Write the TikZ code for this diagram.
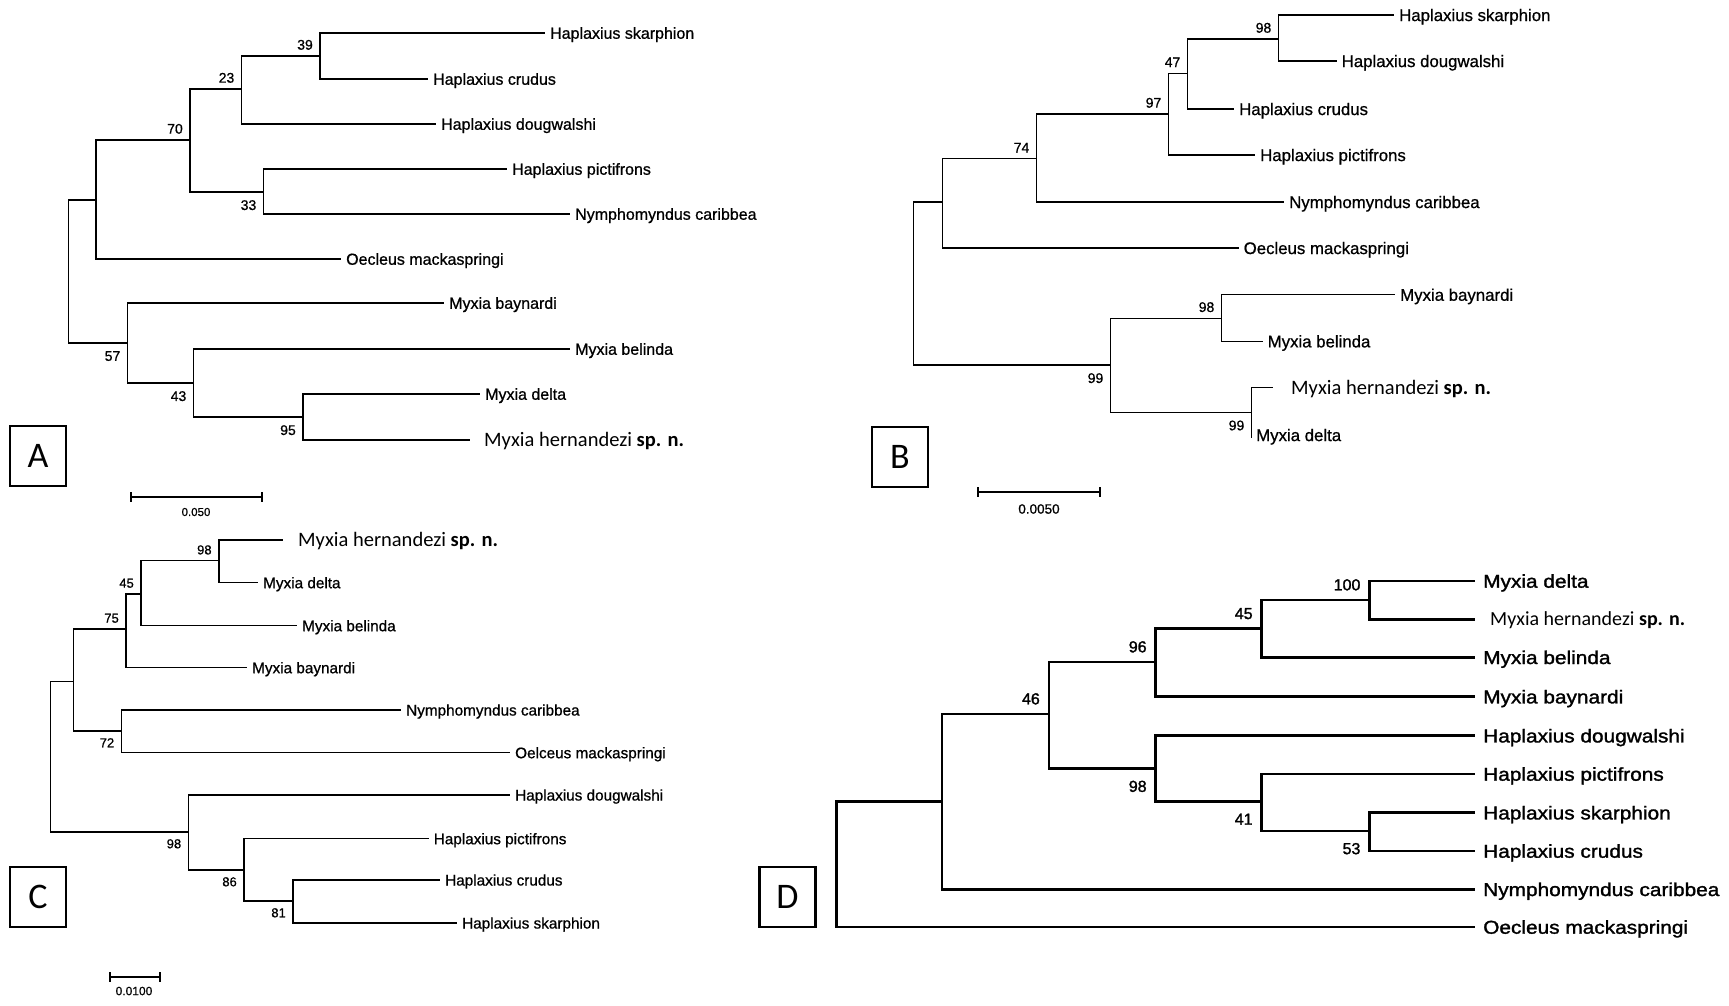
\documentclass[tikz,border=0pt]{standalone}
\usepackage{fontspec}
\newfontfamily\treefont[FakeBold=0.8]{Liberation Sans}
\newfontfamily\treefontheavy[FakeBold=1.5]{Liberation Sans}
\newfontfamily\treefontwide[FakeStretch=1.12,FakeBold=1.5]{Liberation Sans}
\newfontfamily\calfont{Carlito}
\tikzset{
  branch/.style={line width=1.4pt},
  heavybranch/.style={line width=2.7pt},
  taxa/.style={anchor=west, inner xsep=5pt, inner ysep=0pt, text height=11.5pt, text depth=0pt, font=\treefont\fontsize{16}{18}\selectfont},
  taxb/.style={taxa, text height=12.1pt, font=\treefont\fontsize{16.8}{18}\selectfont},
  taxc/.style={taxa, text height=11pt, font=\treefont\fontsize{15.3}{17}\selectfont},
  taxd/.style={taxa, inner xsep=8pt, text height=13.4pt, font=\treefontwide\fontsize{18.6}{20}\selectfont},
  newsp/.style={anchor=west, inner ysep=0pt, text height=13.2pt, text depth=0pt, font=\calfont\fontsize{20.5}{22}\selectfont},
  newspd/.style={newsp, inner xsep=15pt, text height=12.9pt, font=\calfont\fontsize{20}{22}\selectfont},
  bsfont/.style={inner sep=0pt, font=\treefont\fontsize{14}{16}\selectfont},
  bsup/.style={bsfont, anchor=south east, xshift=-7pt, yshift=6pt},
  bsdn/.style={bsfont, anchor=north east, xshift=-7pt, yshift=-8pt},
  bscup/.style={bsup, font=\treefont\fontsize{13}{15}\selectfont},
  bscdn/.style={bsfont, anchor=north east, xshift=-7pt, yshift=-7pt, font=\treefont\fontsize{13}{15}\selectfont},
  bsdup/.style={inner sep=0pt, anchor=south east, xshift=-9pt, yshift=9.3pt, font=\treefontheavy\fontsize{16}{18}\selectfont},
  bsddn/.style={inner sep=0pt, anchor=north east, xshift=-9pt, yshift=-11.8pt, font=\treefontheavy\fontsize{16}{18}\selectfont},
  panel/.style={draw, line width=2.5pt, minimum width=56pt, minimum height=60pt, inner sep=0pt, font=\calfont\fontsize{36}{36}\selectfont},
  scl/.style={inner sep=0pt, font=\treefont\fontsize{12}{14}\selectfont}
}
\begin{document}
\begin{tikzpicture}[x=1pt,y=-1pt]
\useasboundingbox (0,0) rectangle (1729,1005);

% tree A
\coordinate (aroot) at (68.5,271.5);
\coordinate (aup) at (96,200);
\coordinate (a70) at (190,140);
\coordinate (a23) at (241.5,89);
\coordinate (a39) at (320,56);
\coordinate (a33) at (263.5,192);
\coordinate (a57) at (127.5,343);
\coordinate (a43) at (193.5,383);
\coordinate (a95) at (303,417);
\node[taxa] (askar) at (545,33) {Haplaxius skarphion};
\node[taxa] (acrud) at (428,79) {Haplaxius crudus};
\node[taxa] (adoug) at (436,124) {Haplaxius dougwalshi};
\node[taxa] (apict) at (507,169) {Haplaxius pictifrons};
\node[taxa] (anymph) at (570,214) {Nymphomyndus caribbea};
\node[taxa] (aoec) at (341,259) {Oecleus mackaspringi};
\node[taxa] (abayn) at (444,303) {Myxia baynardi};
\node[taxa] (abeli) at (570,349) {Myxia belinda};
\node[taxa] (adelt) at (480,394) {Myxia delta};
\node[newsp, inner xsep=14pt] (ahern) at (470,440) {Myxia hernandezi \textbf{sp. n.}};
\draw[branch] (aroot) |- (aup) (aroot) |- (a57)
  (aup) |- (a70) (aup) |- (aoec.west)
  (a70) |- (a23) (a70) |- (a33)
  (a23) |- (a39) (a23) |- (adoug.west)
  (a39) |- (askar.west) (a39) |- (acrud.west)
  (a33) |- (apict.west) (a33) |- (anymph.west)
  (a57) |- (abayn.west) (a57) |- (a43)
  (a43) |- (abeli.west) (a43) |- (a95)
  (a95) |- (adelt.west) (a95) |- (ahern.west);
\node[bsup] (a39l) at (a39) {39};
\node[bsup] (a23l) at (a23) {23};
\node[bsup] (a70l) at (a70) {70};
\node[bsdn] (a33l) at (a33) {33};
\node[bsdn] (a57l) at (a57) {57};
\node[bsdn] (a43l) at (a43) {43};
\node[bsdn] (a95l) at (a95) {95};
\node[panel] (boxa) at (38,456) {A};
\draw[branch] (131,492) -- (131,502) (131,497) -- (262,497) (262,492) -- (262,502);
\node[scl, font=\treefont\fontsize{11.5}{13}\selectfont] (scla) at (196,512) {0.050};

% tree B
\coordinate (broot) at (913.5,283.5);
\coordinate (bup) at (942.5,202);
\coordinate (b74) at (1036.5,158.7);
\coordinate (b97) at (1168.5,114);
\coordinate (b47) at (1187.5,73.3);
\coordinate (b98) at (1278.5,39);
\coordinate (b99) at (1110.5,365);
\coordinate (b98b) at (1221.5,318.3);
\coordinate (b99b) at (1251.5,412.3);
\node[taxb] (bskar) at (1394,15) {Haplaxius skarphion};
\node[taxb] (bdoug) at (1336.5,61) {Haplaxius dougwalshi};
\node[taxb] (bcrud) at (1234,109) {Haplaxius crudus};
\node[taxb] (bpict) at (1255,155) {Haplaxius pictifrons};
\node[taxb] (bnymph) at (1284,202) {Nymphomyndus caribbea};
\node[taxb] (boec) at (1238.5,248) {Oecleus mackaspringi};
\node[taxb] (bbayn) at (1395,294.7) {Myxia baynardi};
\node[taxb] (bbeli) at (1262.5,341.3) {Myxia belinda};
\node[newsp, inner xsep=18.5pt] (bhern) at (1272.5,387.7) {Myxia hernandezi \textbf{sp. n.}};
\node[taxb, inner xsep=4.5pt] (bdelt) at (1251.5,435) {Myxia delta};
\draw[branch] (broot) |- (bup) (broot) |- (b99)
  (bup) |- (b74) (bup) |- (boec.west)
  (b74) |- (b97) (b74) |- (bnymph.west)
  (b97) |- (b47) (b97) |- (bpict.west)
  (b47) |- (b98) (b47) |- (bcrud.west)
  (b98) |- (bskar.west) (b98) |- (bdoug.west)
  (b99) |- (b98b) (b99) |- (b99b)
  (b98b) |- (bbayn.west) (b98b) |- (bbeli.west)
  (b99b) |- (bhern.west) (b99b) -- (1251.5,438);
\node[bsup] (b98l) at (b98) {98};
\node[bsup] (b47l) at (b47) {47};
\node[bsup] (b97l) at (b97) {97};
\node[bsup] (b74l) at (b74) {74};
\node[bsup] (b98bl) at (b98b) {98};
\node[bsdn] (b99l) at (b99) {99};
\node[bsdn] (b99bl) at (b99b) {99};
\node[panel] (boxb) at (900,457) {B};
\draw[branch] (978,487) -- (978,497) (978,492) -- (1100,492) (1100,487) -- (1100,497);
\node[scl, font=\treefont\fontsize{13.5}{15}\selectfont] (sclb) at (1039,509) {0.0050};

% tree C
\coordinate (croot) at (50.4,757);
\coordinate (cup) at (73.7,681.7);
\coordinate (c75) at (126,629);
\coordinate (c45) at (141,594);
\coordinate (c98) at (218.8,560.7);
\coordinate (c72) at (121.4,731);
\coordinate (c98b) at (188.4,832);
\coordinate (c86) at (244,870);
\coordinate (c81) at (293,901);
\node[newsp, inner xsep=15.4pt] (chern) at (282.6,540) {Myxia hernandezi \textbf{sp. n.}};
\node[taxc] (cdelt) at (258,582.7) {Myxia delta};
\node[taxc] (cbeli) at (297,625.7) {Myxia belinda};
\node[taxc] (cbayn) at (247,667.7) {Myxia baynardi};
\node[taxc] (cnymph) at (401,710) {Nymphomyndus caribbea};
\node[taxc] (coel) at (510,752.7) {Oelceus mackaspringi};
\node[taxc] (cdoug) at (510,795) {Haplaxius dougwalshi};
\node[taxc] (cpict) at (428.6,838.7) {Haplaxius pictifrons};
\node[taxc] (ccrud) at (440,880) {Haplaxius crudus};
\node[taxc] (cskar) at (457,923) {Haplaxius skarphion};
\draw[branch] (croot) |- (cup) (croot) |- (c98b)
  (cup) |- (c75) (cup) |- (c72)
  (c75) |- (c45) (c75) |- (cbayn.west)
  (c45) |- (c98) (c45) |- (cbeli.west)
  (c98) |- (chern.west) (c98) |- (cdelt.west)
  (c72) |- (cnymph.west) (c72) |- (coel.west)
  (c98b) |- (cdoug.west) (c98b) |- (c86)
  (c86) |- (cpict.west) (c86) |- (c81)
  (c81) |- (ccrud.west) (c81) |- (cskar.west);
\node[bscup] (c98l) at (c98) {98};
\node[bscup] (c45l) at (c45) {45};
\node[bscup] (c75l) at (c75) {75};
\node[bscdn] (c72l) at (c72) {72};
\node[bscdn] (c98bl) at (c98b) {98};
\node[bscdn] (c86l) at (c86) {86};
\node[bscdn] (c81l) at (c81) {81};
\node[panel] (boxc) at (38,897) {C};
\draw[branch] (110,972) -- (110,982) (110,977) -- (160,977) (160,972) -- (160,982);
\node[scl] (sclc) at (134,991) {0.0100};

% tree D
\coordinate (droot) at (836.5,864.3);
\coordinate (dup) at (942,801.7);
\coordinate (d46) at (1049,714);
\coordinate (d96) at (1155.8,662);
\coordinate (d45) at (1261.8,628.7);
\coordinate (d100) at (1369.6,600);
\coordinate (d98) at (1155.8,768.7);
\coordinate (d41) at (1261.8,801.7);
\coordinate (d53) at (1369.6,831);
\node[taxd] (ddelt) at (1475,581) {Myxia delta};
\node[newspd] (dhern) at (1475,619.3) {Myxia hernandezi \textbf{sp. n.}};
\node[taxd] (dbeli) at (1475,657.3) {Myxia belinda};
\node[taxd] (dbayn) at (1475,696.7) {Myxia baynardi};
\node[taxd] (ddoug) at (1475,735.7) {Haplaxius dougwalshi};
\node[taxd] (dpict) at (1475,774) {Haplaxius pictifrons};
\node[taxd] (dskar) at (1475,812.7) {Haplaxius skarphion};
\node[taxd] (dcrud) at (1475,851) {Haplaxius crudus};
\node[taxd] (dnymph) at (1475,889.3) {Nymphomyndus caribbea};
\node[taxd] (doec) at (1475,927) {Oecleus mackaspringi};
\draw[heavybranch] (droot) |- (dup) (droot) |- (doec.west)
  (dup) |- (d46) (dup) |- (dnymph.west)
  (d46) |- (d96) (d46) |- (d98)
  (d96) |- (d45) (d96) |- (dbayn.west)
  (d45) |- (d100) (d45) |- (dbeli.west)
  (d100) |- (ddelt.west) (d100) |- (dhern.west)
  (d98) |- (ddoug.west) (d98) |- (d41)
  (d41) |- (dpict.west) (d41) |- (d53)
  (d53) |- (dskar.west) (d53) |- (dcrud.west);
\node[bsdup] (d100l) at (d100) {100};
\node[bsdup] (d45l) at (d45) {45};
\node[bsdup] (d96l) at (d96) {96};
\node[bsdup] (d46l) at (d46) {46};
\node[bsddn] (d98l) at (d98) {98};
\node[bsddn] (d41l) at (d41) {41};
\node[bsddn] (d53l) at (d53) {53};
\node[panel] (boxd) at (787.5,897) {D};
\end{tikzpicture}
\end{document}
